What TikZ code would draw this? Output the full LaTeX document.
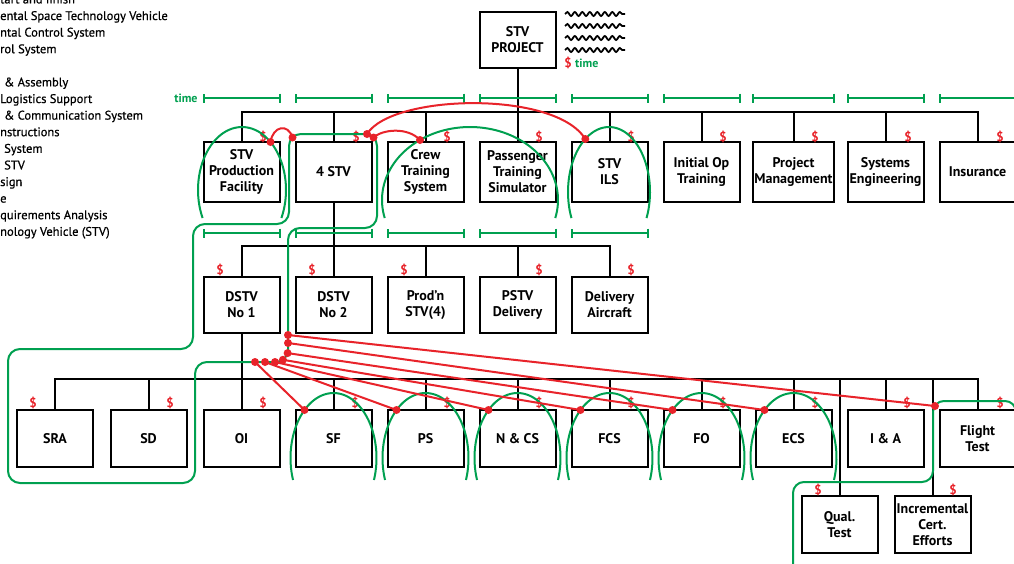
\documentclass[tikz,border=0pt]{standalone}
\usepackage{fontspec}
\setmainfont{PT Sans}
\newfontfamily\legfont{PT Sans}[FakeBold=0.6]
\usetikzlibrary{arrows.meta,decorations.pathmorphing}
\definecolor{myred}{RGB}{232,35,42}
\definecolor{mygreen}{RGB}{0,160,80}
\tikzset{
 wire/.style={draw=black, line width=2pt},
 box/.style={draw=black, line width=2pt, fill=white, minimum width=76pt, inner sep=1pt, align=center, font=\bfseries\fontsize{14}{16}\selectfont},
 dollar/.style={text=myred, font=\bfseries\fontsize{13}{13}\selectfont, inner sep=0pt},
 tlabel/.style={text=mygreen, font=\bfseries\fontsize{12}{12}\selectfont, inner sep=0pt},
 tbar/.style={draw=mygreen, line width=2pt, arrows={Bar[width=9pt]-Bar[width=9pt]}},
 tbarl/.style={draw=mygreen, line width=2pt, arrows={Bar[width=9pt]-}},
 gline/.style={draw=mygreen, line width=2pt},
 rline/.style={draw=myred, line width=2pt},
 rdot/.style={circle, fill=myred, inner sep=0pt, minimum size=8pt},
 legtext/.style={anchor=base west, inner sep=0pt, font=\legfont\fontsize{12.5}{12.5}\selectfont},
 wavy/.style={draw=black, line width=1.8pt, decorate, decoration={snake, segment length=7.5pt, amplitude=2pt}},
}
\begin{document}
\begin{tikzpicture}[x=1pt,y=-1pt]
\useasboundingbox (0,0) rectangle (1014,563);
\fill[white] (0,0) rectangle (1014,563);

% legend (cut off at left)
\node[legtext] (l1) at (0,3.4) {tart and finish};
\node[legtext] (l2) at (0,20) {ental Space Technology Vehicle};
\node[legtext] (l3) at (0,36.6) {ntal Control System};
\node[legtext] (l4) at (0,53.2) {rol System};
\node[legtext] (l5) at (4,86.4) {\& Assembly};
\node[legtext] (l6) at (0,103) {Logistics Support};
\node[legtext] (l7) at (4,119.6) {\& Communication System};
\node[legtext] (l8) at (0,136.2) {nstructions};
\node[legtext] (l9) at (4,152.8) {System};
\node[legtext] (l10) at (4,169.4) {STV};
\node[legtext] (l11) at (0,186) {sign};
\node[legtext] (l12) at (0,202.6) {e};
\node[legtext] (l13) at (0,219.2) {quirements Analysis};
\node[legtext] (l14) at (0,235.8) {nology Vehicle (STV)};

% top
\node[box, minimum height=56pt] (top) at (517.5,39.5) {STV\\PROJECT};
\draw[wavy] (565,14) -- (625,14);
\draw[wavy] (565,26) -- (625,26);
\draw[wavy] (565,38) -- (625,38);
\draw[wavy] (565,50) -- (625,50);
\node[dollar] (pd) at (568,63) {\$};
\node[tlabel, anchor=west] (pt) at (575,63) {time};

% level 1
\node[box, minimum height=60pt] (b1) at (241.5,172) {STV\\Production\\Facility};
\node[box, minimum height=60pt] (b2) at (333.5,172) {4 STV};
\node[box, minimum height=60pt] (b3) at (425.5,172) {Crew\\Training\\System};
\node[box, minimum height=60pt] (b4) at (517.5,172) {Passenger\\Training\\Simulator};
\node[box, minimum height=60pt] (b5) at (609.5,172) {STV\\ILS};
\node[box, minimum height=60pt] (b6) at (701.5,172) {Initial Op\\Training};
\node[box, minimum height=60pt] (b7) at (793.5,172) {Project\\Management};
\node[box, minimum height=60pt] (b8) at (885.5,172) {Systems\\Engineering};
\node[box, minimum height=60pt] (b9) at (977.5,172) {Insurance};
\draw[wire] (top.south) -- (b4.north);
\draw[wire] (b1.north) -- ++(0,-29) -| (b9.north);
\foreach \n in {b2,b3,b5,b6,b7,b8} \draw[wire] (\n.north) -- ++(0,-29);

% level 2
\node[box, minimum height=56pt] (c1) at (241.5,305) {DSTV\\No 1};
\node[box, minimum height=56pt] (c2) at (333.5,305) {DSTV\\No 2};
\node[box, minimum height=56pt] (c3) at (425.5,305) {Prod'n\\STV(4)};
\node[box, minimum height=56pt] (c4) at (517.5,305) {PSTV\\Delivery};
\node[box, minimum height=56pt] (c5) at (609.5,305) {Delivery\\Aircraft};
\draw[wire] (b2.south) -- (c2.north);
\draw[wire] (c1.north) -- ++(0,-30) -| (c5.north);
\foreach \n in {c3,c4} \draw[wire] (\n.north) -- ++(0,-30);

% level 3
\node[box, minimum height=57pt] (e1) at (55,438.5) {SRA};
\node[box, minimum height=57pt] (e2) at (148.5,438.5) {SD};
\node[box, minimum height=57pt] (e3) at (241.5,438.5) {OI};
\node[box, minimum height=57pt] (e4) at (333.5,438.5) {SF};
\node[box, minimum height=57pt] (e5) at (425.5,438.5) {PS};
\node[box, minimum height=57pt] (e6) at (517.5,438.5) {N \& CS};
\node[box, minimum height=57pt] (e7) at (609.5,438.5) {FCS};
\node[box, minimum height=57pt] (e8) at (701.5,438.5) {FO};
\node[box, minimum height=57pt] (e9) at (793.5,438.5) {ECS};
\node[box, minimum height=57pt] (e10) at (885.5,438.5) {I \& A};
\node[box, minimum height=57pt] (e11) at (977.5,438.5) {Flight\\Test};
\node[box, minimum height=57pt] (q1) at (839.5,524.5) {Qual.\\Test};
\node[box, minimum height=57pt] (q2) at (932.5,524.5) {Incremental\\Cert.\\Efforts};
\draw[wire] (c1.south) -- (e3.north);
\draw[wire] (e1.north) -- ++(0,-30) -| (e11.north);
\foreach \n in {e2,e4,e5,e6,e7,e8,e9,e10} \draw[wire] (\n.north) -- ++(0,-30);
\draw[wire] (q1.north) -- ++(0,-116);
\draw[wire] (q2.north) -- ++(0,-116);

% dollar signs
\foreach \x/\n in {263/1,356/2,447/3,539/4,631/5,723/6,815/7,908/8,1000/9}
  \node[dollar] (da\n) at (\x,137) {\$};
\foreach \x/\n in {220/1,312/2,404/3,539/4,631/5}
  \node[dollar] (db\n) at (\x,270) {\$};
\foreach \x/\n in {33/1,170/2,263/3,355/4,447/5,539/6,631/7,723/8,815/9,907/10,1000/11}
  \node[dollar] (dc\n) at (\x,403) {\$};
\node[dollar] (dq1) at (818,490) {\$};
\node[dollar] (dq2) at (953,490) {\$};

% time bars
\node[tlabel] (tl) at (186,98) {time};
\foreach \n in {b1,b2,b3,b4,b5,b6,b7,b8}
  \draw[tbar] (\n.north west |- 0,98) -- (\n.north east |- 0,98);
\draw[tbarl] (b9.north west |- 0,98) -- (1020,98);
\foreach \n in {c1,c2,c3,c4,c5}
  \draw[tbar] (\n.north west |- 0,233) -- (\n.north east |- 0,233);

% green arches
\draw[gline] plot[domain=153.6:386.4, samples=60] ({242+44*cos(\x)},{190+63*sin(\x)});
\draw[gline] plot[domain=165.7:374.3, samples=80] ({470+88*cos(\x)},{200+73*sin(\x)});
\draw[gline] plot[domain=156.4:383.6, samples=60] ({609+41*cos(\x)},{192+65*sin(\x)});
\foreach \cx in {333.5,425.5,517.5,609.5,701.5,793.5}
  \draw[gline] plot[domain=160.2:379.8, samples=60] ({\cx+43*cos(\x)},{458+65*sin(\x)});

% green routes
\draw[gline, rounded corners=12pt] (289,200) -- (289,134) -- (377,134) -- (377,228) -- (288,228) -- (288,362) -- (195,362) -- (195,483) -- (8,483) -- (8,349) -- (193,349) -- (193,224) -- (289,224) -- (289,200);
\draw[gline, rounded corners=11pt] (793,575) -- (793,482) -- (933,482) -- (933,401) -- (1016,401) -- (1016,440);

% red dots
\node[rdot] (d1) at (270.5,142) {};
\node[rdot] (d2) at (292.5,137.5) {};
\node[rdot] (d3) at (367,134) {};
\node[rdot] (d4) at (373.5,137.5) {};
\node[rdot] (d5) at (420,140) {};
\node[rdot] (d6) at (585.3,139) {};
\node[rdot] (k1) at (288,335) {};
\node[rdot] (k2) at (288,343) {};
\node[rdot] (k3) at (287.6,353.1) {};
\node[rdot] (k4) at (282.9,359.8) {};
\node[rdot] (k5) at (275,362) {};
\node[rdot] (k6) at (265,362) {};
\node[rdot] (k7) at (255,362) {};
\foreach \cx/\n in {333.5/4,425.5/5,517.5/6,609.5/7,701.5/8,793.5/9}
  \node[rdot] (t\n) at ({\cx-29},410) {};
\node[rdot] (t11) at (935,406) {};

% red connectors
\draw[rline] (d1.center) .. controls (273,126) and (288,123) .. (d2.center);
\draw[rline] (d3.center) .. controls (392,94) and (555,90) .. (d6.center);
\draw[rline] (d4.center) .. controls (383,129) and (408,127) .. (d5.center);
\draw[rline] (k7.center) -- (t4.center);
\draw[rline] (k6.center) -- (t5.center);
\draw[rline] (k5.center) -- (t6.center);
\draw[rline] (k4.center) -- (t7.center);
\draw[rline] (k3.center) -- (t8.center);
\draw[rline] (k2.center) -- (t9.center);
\draw[rline] (k1.center) -- (t11.center);
\end{tikzpicture}
\end{document}
